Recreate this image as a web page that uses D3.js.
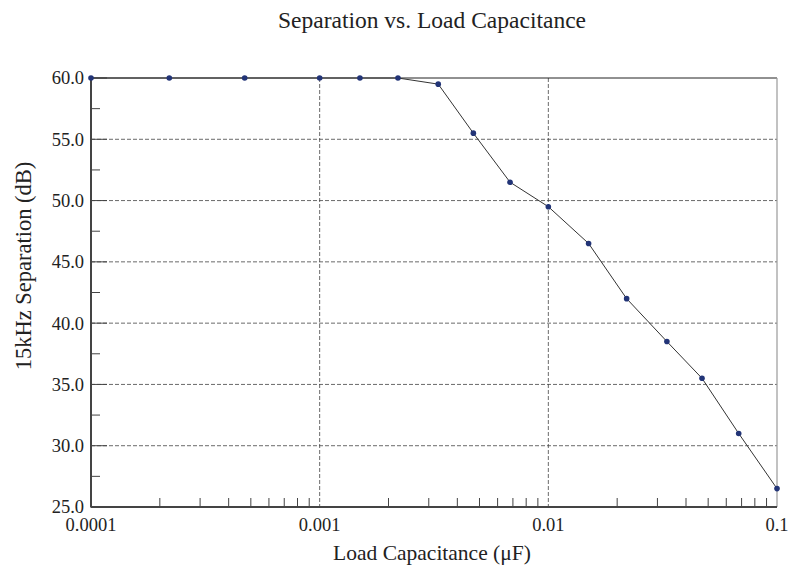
<!DOCTYPE html>
<html>
<head>
<meta charset="utf-8">
<script src="https://cdn.jsdelivr.net/npm/d3@7"></script>
<style>
  body { margin: 0; background: #fff; }
  text { font-family: "Liberation Serif", "DejaVu Serif", serif; fill: #222; }
</style>
</head>
<body>
<script>
(function (d3) {
    "use strict";

    /***** Data *****/
    var capacitance = [0.0001, 0.00022, 0.00047, 0.001, 0.0015, 0.0022, 0.0033, 0.0047,
                       0.0068, 0.01, 0.015, 0.022, 0.033, 0.047, 0.068, 0.1];
    var separation = [60.0, 60.0, 60.0, 60.0, 60.0, 60.0, 59.5, 55.5,
                      51.5, 49.5, 46.5, 42.0, 38.5, 35.5, 31.0, 26.5];
    var xTickValues = [0.0001, 0.001, 0.01, 0.1];
    var xTickLabels = ["0.0001", "0.001", "0.01", "0.1"];
    var yTickValues = [25, 30, 35, 40, 45, 50, 55, 60];

    /***** Configuration *****/
    var width = 788, height = 569;
    var margin = { top: 78, right: 11, bottom: 62, left: 91 };
    var chartWidth = width - margin.left - margin.right;
    var chartHeight = height - margin.top - margin.bottom;

    var xScale = d3.scaleLog().domain([0.0001, 0.1]).range([0, chartWidth]);
    var yScale = d3.scaleLinear().domain([25, 60]).range([chartHeight, 0]);

    var svg = d3.select("body").append("svg")
        .attr("width", width)
        .attr("height", height);

    var g = svg.append("g")
        .attr("transform", "translate(" + margin.left + "," + margin.top + ")");

    /***** Grid *****/
    g.selectAll(".hgrid")
        .data(yTickValues.filter(function (v) { return v > 25 && v < 60; }))
        .enter().append("line")
        .attr("x1", 0).attr("x2", chartWidth)
        .attr("y1", function (d) { return yScale(d); })
        .attr("y2", function (d) { return yScale(d); })
        .attr("stroke", "#444").attr("stroke-width", 0.8)
        .attr("stroke-dasharray", "4,2");

    g.selectAll(".vgrid")
        .data([0.001, 0.01])
        .enter().append("line")
        .attr("y1", 0).attr("y2", chartHeight)
        .attr("x1", function (d) { return xScale(d); })
        .attr("x2", function (d) { return xScale(d); })
        .attr("stroke", "#444").attr("stroke-width", 0.8)
        .attr("stroke-dasharray", "4,2");

    // top line and right border
    g.append("line")
        .attr("x1", 0).attr("x2", chartWidth)
        .attr("y1", yScale(60)).attr("y2", yScale(60))
        .attr("stroke", "#222").attr("stroke-width", 1);
    g.append("line")
        .attr("x1", chartWidth).attr("x2", chartWidth)
        .attr("y1", 0).attr("y2", chartHeight)
        .attr("stroke", "#999").attr("stroke-width", 1.2);

    /***** Axes *****/
    // minor y ticks (inward)
    g.selectAll(".yminor")
        .data(d3.range(27.5, 60, 5))
        .enter().append("line")
        .attr("x1", 0).attr("x2", 9)
        .attr("y1", function (d) { return yScale(d); })
        .attr("y2", function (d) { return yScale(d); })
        .attr("stroke", "#444").attr("stroke-width", 1);

    // major y ticks (inward, solid start)
    g.selectAll(".ymajor")
        .data(yTickValues)
        .enter().append("line")
        .attr("x1", 0).attr("x2", 16)
        .attr("y1", function (d) { return yScale(d); })
        .attr("y2", function (d) { return yScale(d); })
        .attr("stroke", "#444").attr("stroke-width", 1);

    // minor x ticks (inward)
    var minorX = [];
    [0.0001, 0.001, 0.01].forEach(function (base) {
        for (var k = 2; k <= 9; k++) minorX.push(base * k);
    });
    g.selectAll(".xminor")
        .data(minorX)
        .enter().append("line")
        .attr("y1", chartHeight).attr("y2", chartHeight - 9)
        .attr("x1", function (d) { return xScale(d); })
        .attr("x2", function (d) { return xScale(d); })
        .attr("stroke", "#444").attr("stroke-width", 1);

    g.append("line")
        .attr("x1", 0).attr("x2", 0)
        .attr("y1", 0).attr("y2", chartHeight + 0.5)
        .attr("stroke", "#444").attr("stroke-width", 2);
    g.append("line")
        .attr("x1", 0).attr("x2", chartWidth)
        .attr("y1", chartHeight).attr("y2", chartHeight)
        .attr("stroke", "#444").attr("stroke-width", 2);

    g.selectAll(".ylabel")
        .data(yTickValues)
        .enter().append("text")
        .attr("x", -7)
        .attr("y", function (d) { return yScale(d); })
        .attr("dy", "0.35em")
        .attr("text-anchor", "end")
        .style("font-size", "18.5px")
        .text(function (d) { return d3.format(".1f")(d); });

    g.selectAll(".xlabel")
        .data(xTickValues)
        .enter().append("text")
        .attr("x", function (d) { return xScale(d); })
        .attr("y", chartHeight + 24)
        .attr("text-anchor", "middle")
        .style("font-size", "18.5px")
        .text(function (d, i) { return xTickLabels[i]; });

    /***** Series *****/
    var points = capacitance.map(function (c, i) { return [c, separation[i]]; });

    g.append("path")
        .datum(points)
        .attr("fill", "none")
        .attr("stroke", "#333")
        .attr("stroke-width", 1)
        .attr("d", d3.line()
            .x(function (d) { return xScale(d[0]); })
            .y(function (d) { return yScale(d[1]); }));

    g.selectAll(".dot")
        .data(points)
        .enter().append("circle")
        .attr("cx", function (d) { return xScale(d[0]); })
        .attr("cy", function (d) { return yScale(d[1]); })
        .attr("r", 2.8)
        .attr("fill", "#223477");

    /***** Titles *****/
    svg.append("text")
        .attr("x", 432).attr("y", 28)
        .attr("text-anchor", "middle")
        .style("font-size", "23.5px")
        .text("Separation vs. Load Capacitance");

    svg.append("text")
        .attr("x", 432).attr("y", 560)
        .attr("text-anchor", "middle")
        .style("font-size", "21.5px")
        .text("Load Capacitance (\u03bcF)");

    svg.append("text")
        .attr("transform", "translate(31,266) rotate(-90)")
        .attr("text-anchor", "middle")
        .style("font-size", "22.5px")
        .text("15kHz Separation (dB)");

})(d3);
</script>
</body>
</html>
